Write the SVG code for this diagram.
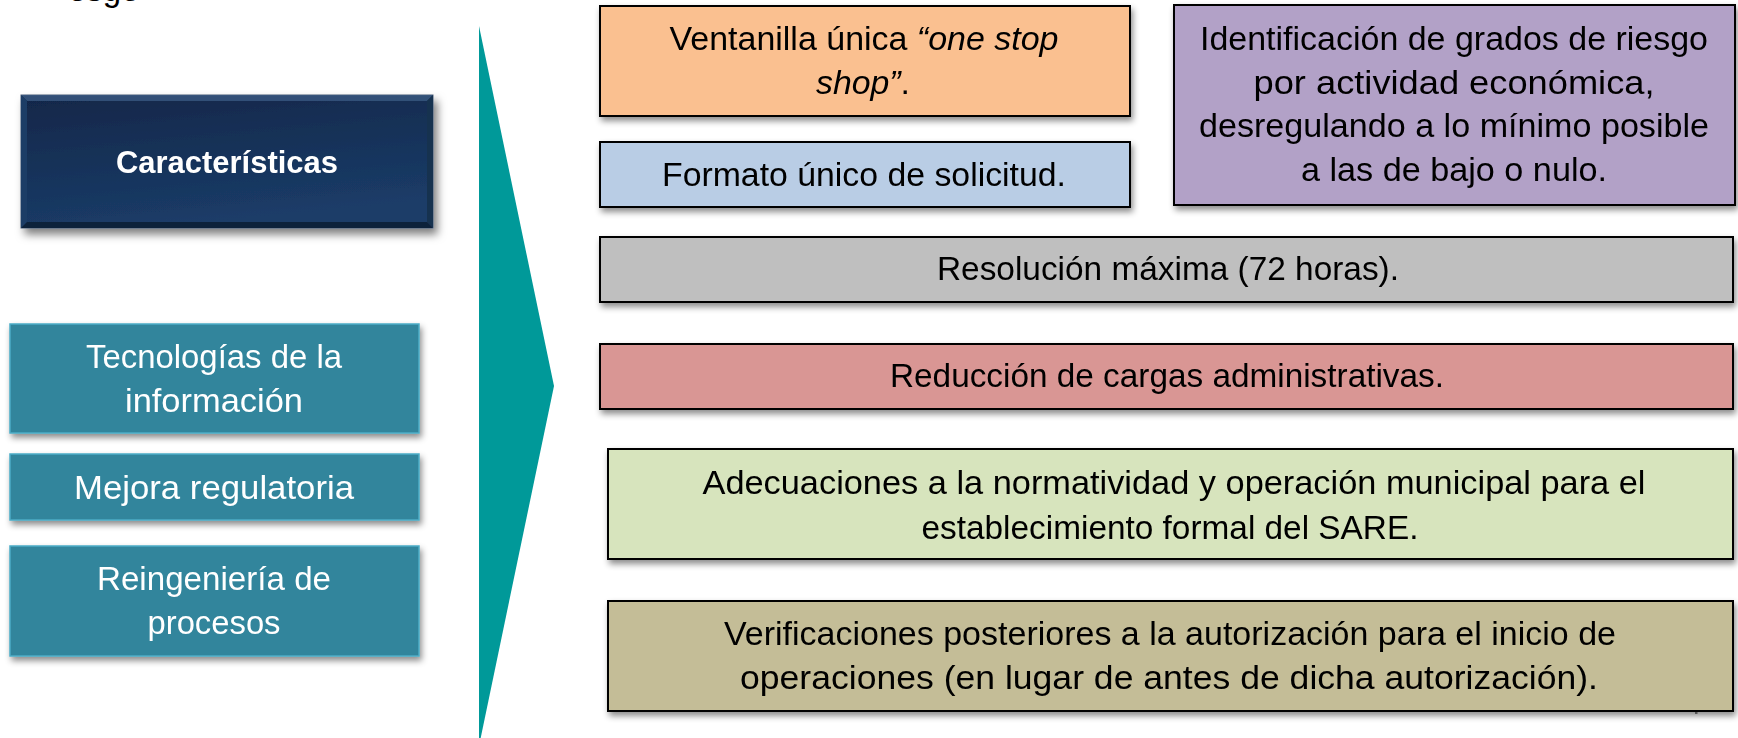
<svg xmlns="http://www.w3.org/2000/svg" width="1738" height="738" viewBox="0 0 1738 738">
<defs>
<filter id="sh" x="-10%" y="-20%" width="120%" height="150%">
<feDropShadow dx="2" dy="4" stdDeviation="3" flood-color="#000" flood-opacity="0.45"/>
</filter>
<filter id="sh2" x="-10%" y="-20%" width="125%" height="150%">
<feDropShadow dx="4" dy="6" stdDeviation="4" flood-color="#000" flood-opacity="0.5"/>
</filter>
<linearGradient id="navy" x1="0" y1="0" x2="0.3" y2="1">
<stop offset="0" stop-color="#112749"/>
<stop offset="1" stop-color="#1b3c68"/>
</linearGradient>
</defs>
<style>
text{font-family:"Liberation Sans",Arial,sans-serif;}
.t{font-size:33px;fill:#000;text-anchor:middle;}
.w{font-size:33px;fill:#fff;text-anchor:middle;}
.b{font-weight:bold;font-size:31px;fill:#fff;text-anchor:middle;}
.box{stroke:#000;stroke-width:2;}
.teal{fill:#31859c;stroke:#4bacc6;stroke-width:1.5;}
</style>
<rect width="1738" height="738" fill="#fff"/>
<text x="68" y="1" style="font-size:33px;fill:#000;">esgo</text>

<g id="caracteristicas" filter="url(#sh2)">
<rect x="21" y="95" width="412" height="133" fill="url(#navy)" stroke="#4d5f78" stroke-width="1"/>
<polygon points="21,95 433,95 427,101 27,101" fill="#3a5a82" opacity="0.8"/>
<polygon points="21,95 27,101 27,222 21,228" fill="#1f3d66"/>
<polygon points="433,95 427,101 427,222 433,228" fill="#16304f"/>
<polygon points="21,228 27,222 427,222 433,228" fill="#0e213b"/>
<text class="b" x="227" y="173" textLength="222" lengthAdjust="spacingAndGlyphs">Características</text>
</g>

<g id="tecnologias" filter="url(#sh)">
<rect class="teal" x="10" y="324" width="409" height="109"/>
<text class="w" x="214" y="368" textLength="256" lengthAdjust="spacingAndGlyphs">Tecnologías de la</text>
<text class="w" x="214" y="412" textLength="178" lengthAdjust="spacingAndGlyphs">información</text>
</g>
<g id="mejora" filter="url(#sh)">
<rect class="teal" x="10" y="454" width="409" height="66"/>
<text class="w" x="214" y="499" textLength="280" lengthAdjust="spacingAndGlyphs">Mejora regulatoria</text>
</g>
<g id="reingenieria" filter="url(#sh)">
<rect class="teal" x="10" y="546" width="409" height="110"/>
<text class="w" x="214" y="590" textLength="234" lengthAdjust="spacingAndGlyphs">Reingeniería de</text>
<text class="w" x="214" y="634" textLength="133" lengthAdjust="spacingAndGlyphs">procesos</text>
</g>

<g id="arrow">
<polygon points="479,26 554,386 479,746" fill="#009999"/>
</g>

<g id="ventanilla" filter="url(#sh)">
<rect class="box" x="600" y="6" width="530" height="110" fill="#fac090"/>
<text class="t" x="864" y="50" textLength="389" lengthAdjust="spacingAndGlyphs">Ventanilla única <tspan font-style="italic">“one stop</tspan></text>
<text class="t" x="863" y="94" textLength="94" lengthAdjust="spacingAndGlyphs"><tspan font-style="italic">shop”</tspan>.</text>
</g>
<g id="formato" filter="url(#sh)">
<rect class="box" x="600" y="142" width="530" height="65" fill="#b9cde5"/>
<text class="t" x="864" y="186" textLength="404" lengthAdjust="spacingAndGlyphs">Formato único de solicitud.</text>
</g>
<g id="identificacion" filter="url(#sh)">
<rect class="box" x="1174" y="5" width="561" height="200" fill="#b2a1c7"/>
<text class="t" x="1454" y="50" textLength="508" lengthAdjust="spacingAndGlyphs">Identificación de grados de riesgo</text>
<text class="t" x="1454" y="94" textLength="401" lengthAdjust="spacingAndGlyphs">por actividad económica,</text>
<text class="t" x="1454" y="137" textLength="510" lengthAdjust="spacingAndGlyphs">desregulando a lo mínimo posible</text>
<text class="t" x="1454" y="181" textLength="306" lengthAdjust="spacingAndGlyphs">a las de bajo o nulo.</text>
</g>
<g id="resolucion" filter="url(#sh)">
<rect class="box" x="600" y="237" width="1133" height="65" fill="#bfbfbf"/>
<text class="t" x="1168" y="280" textLength="462" lengthAdjust="spacingAndGlyphs">Resolución máxima (72 horas).</text>
</g>
<g id="reduccion" filter="url(#sh)">
<rect class="box" x="600" y="344" width="1133" height="65" fill="#d99694"/>
<text class="t" x="1167" y="387" textLength="554" lengthAdjust="spacingAndGlyphs">Reducción de cargas administrativas.</text>
</g>
<g id="adecuaciones" filter="url(#sh)">
<rect class="box" x="608" y="449" width="1125" height="110" fill="#d7e4bd"/>
<text class="t" x="1174" y="494" textLength="943" lengthAdjust="spacingAndGlyphs">Adecuaciones a la normatividad y operación municipal para el</text>
<text class="t" x="1170" y="539" textLength="497" lengthAdjust="spacingAndGlyphs">establecimiento formal del SARE.</text>
</g>
<rect x="1695" y="710" width="2.5" height="4" fill="#888"/>
<g id="verificaciones" filter="url(#sh)">
<rect class="box" x="608" y="601" width="1125" height="110" fill="#c4bd97"/>
<text class="t" x="1170" y="645" textLength="892" lengthAdjust="spacingAndGlyphs">Verificaciones posteriores a la autorización para el inicio de</text>
<text class="t" x="1169" y="689" textLength="858" lengthAdjust="spacingAndGlyphs">operaciones (en lugar de antes de dicha autorización).</text>
</g>
<g id="connectors"></g>
</svg>
